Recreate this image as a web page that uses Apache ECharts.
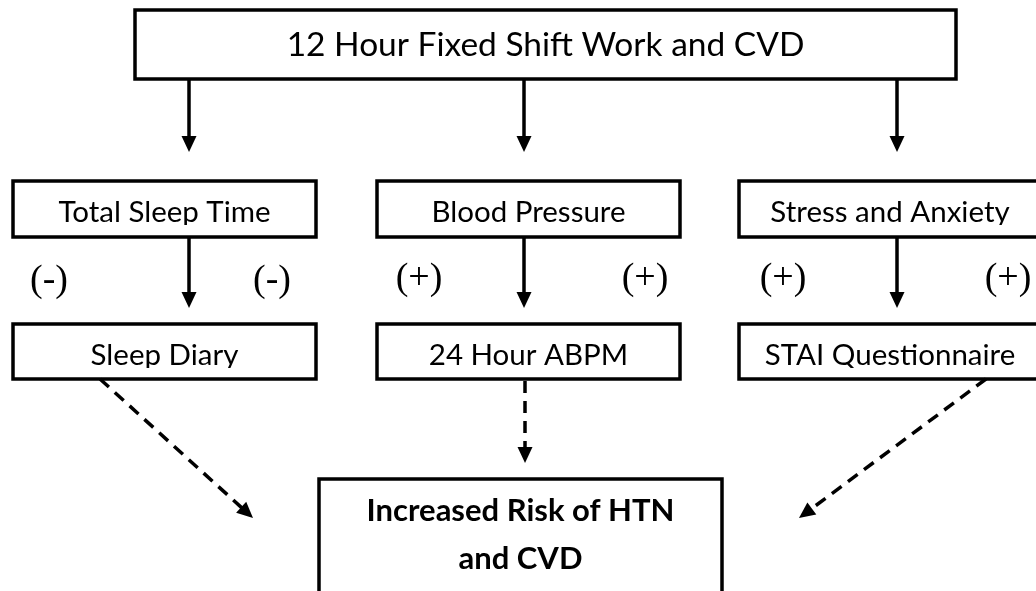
<!DOCTYPE html>
<html>
<head>
<meta charset="utf-8">
<script src="https://cdn.jsdelivr.net/npm/echarts@6/dist/echarts.min.js"></script>
<style>
html,body{margin:0;padding:0;background:#fff;}
#chart{width:1036px;height:591px;}
</style>
</head>
<body>
<div id="chart"></div>
<script>
// ---- Diagram content ----
const boxLabels = [
  '12 Hour Fixed Shift Work and CVD',
  'Total Sleep Time', 'Blood Pressure', 'Stress and Anxiety',
  'Sleep Diary', '24 Hour ABPM', 'STAI Questionnaire',
  'Increased Risk of HTN\nand CVD'
];
// box corners in diagram units [x0, y0, x1, y1]
const boxRects = [
  [135, 10, 956, 79],
  [13, 181, 316, 237], [377, 181, 680, 237], [739, 181, 1041, 237],
  [13, 324, 316, 379], [377, 324, 680, 379], [739, 324, 1041, 379],
  [319, 479, 722, 605]
];
// vertical centre of each box label (diagram units)
const labelY = [45, 212, 212, 212, 355, 355, 355, 535];
// arrows [x1, y1, x2(tip), y2(tip), dashed]
const arrowLinks = [
  [189, 79, 189, 152, 0], [524, 79, 524, 152, 0], [897, 79, 897, 152, 0],
  [189, 237, 189, 308, 0], [524, 237, 524, 308, 0], [897, 237, 897, 308, 0],
  [100, 379, 253, 518, 1], [525, 381, 525, 463, 1], [986, 379, 799, 518, 1]
];
const signLabels = ['(-)', '(-)', '(+)', '(+)', '(+)', '(+)'];
const signX = [49, 272, 419, 645, 783, 1008];
const signY = [281, 281, 279, 279, 279, 279];

// ---- Rendering ----
const chart = echarts.init(document.getElementById('chart'), null, {renderer: 'canvas'});

const boxData = boxRects.map((r, i) => [r[0], r[1], r[2], r[3], labelY[i], i]);
const signData = signLabels.map((s, i) => [signX[i], signY[i], s]);

function boxFont(i) {
  if (i === 0) return '33.5px Lato';
  if (i === 7) return 'bold 31px Lato';
  return '29.5px Lato';
}

chart.setOption({
  animation: false,
  backgroundColor: '#ffffff',
  grid: {left: 0, right: 0, top: 0, bottom: 0},
  xAxis: {type: 'value', min: 0, max: 1036, show: false},
  yAxis: {type: 'value', min: 0, max: 591, inverse: true, show: false},
  series: [
    {
      type: 'custom',
      coordinateSystem: 'cartesian2d',
      data: boxData,
      encode: {x: [0, 2], y: [1, 3]},
      clip: false,
      renderItem: function (params, api) {
        const i = api.value(5);
        const p0 = api.coord([api.value(0), api.value(1)]);
        const p1 = api.coord([api.value(2), api.value(3)]);
        const ly = api.coord([0, api.value(4)])[1];
        const cx = (p0[0] + p1[0]) / 2;
        const children = [
          {
            type: 'rect',
            shape: {x: p0[0], y: p0[1], width: p1[0] - p0[0], height: p1[1] - p0[1]},
            style: {fill: '#fff', stroke: null}
          },
          {
            type: 'text',
            style: {
              text: boxLabels[i], x: cx, y: ly,
              align: 'center', verticalAlign: 'middle',
              font: boxFont(i), fill: '#000', lineHeight: 48
            }
          }
        ];
        if (i >= 1 && i <= 6) {
          // the reference crops the descenders of these labels
          const cy = ly + 13;
          children.push({
            type: 'rect',
            shape: {x: p0[0] + 2, y: cy, width: p1[0] - p0[0] - 4, height: p1[1] - cy - 1},
            style: {fill: '#fff'}
          });
        }
        children.push({
          type: 'rect',
          shape: {x: p0[0], y: p0[1], width: p1[0] - p0[0], height: p1[1] - p0[1]},
          style: {fill: null, stroke: '#000', lineWidth: 3.5}
        });
        return {type: 'group', children: children};
      }
    },
    {
      type: 'custom',
      coordinateSystem: 'cartesian2d',
      data: arrowLinks,
      encode: {x: [0, 2], y: [1, 3]},
      clip: false,
      renderItem: function (params, api) {
        const a = api.coord([api.value(0), api.value(1)]);
        const b = api.coord([api.value(2), api.value(3)]);
        const dashed = api.value(4) === 1;
        const dx = b[0] - a[0], dy = b[1] - a[1];
        const len = Math.sqrt(dx * dx + dy * dy);
        const ux = dx / len, uy = dy / len;
        const headLen = 16, headW = 7.5;
        const base = [b[0] - ux * headLen, b[1] - uy * headLen];
        const end = [b[0] - ux * (headLen - 2), b[1] - uy * (headLen - 2)];
        return {
          type: 'group',
          children: [
            {
              type: 'line',
              shape: {x1: a[0], y1: a[1], x2: end[0], y2: end[1]},
              style: {stroke: '#000', lineWidth: 3.5, lineDash: dashed ? [12, 8] : null}
            },
            {
              type: 'polygon',
              shape: {points: [
                [b[0], b[1]],
                [base[0] - uy * headW, base[1] + ux * headW],
                [base[0] + uy * headW, base[1] - ux * headW]
              ]},
              style: {fill: '#000'}
            }
          ]
        };
      }
    },
    {
      type: 'custom',
      coordinateSystem: 'cartesian2d',
      data: signData,
      encode: {x: 0, y: 1},
      clip: false,
      renderItem: function (params, api) {
        const p = api.coord([api.value(0), api.value(1)]);
        return {
          type: 'text',
          style: {
            text: signLabels[params.dataIndex], x: p[0], y: p[1],
            align: 'center', verticalAlign: 'middle',
            font: '38px "Liberation Serif"', fill: '#000'
          }
        };
      }
    }
  ]
});
</script>
</body>
</html>
